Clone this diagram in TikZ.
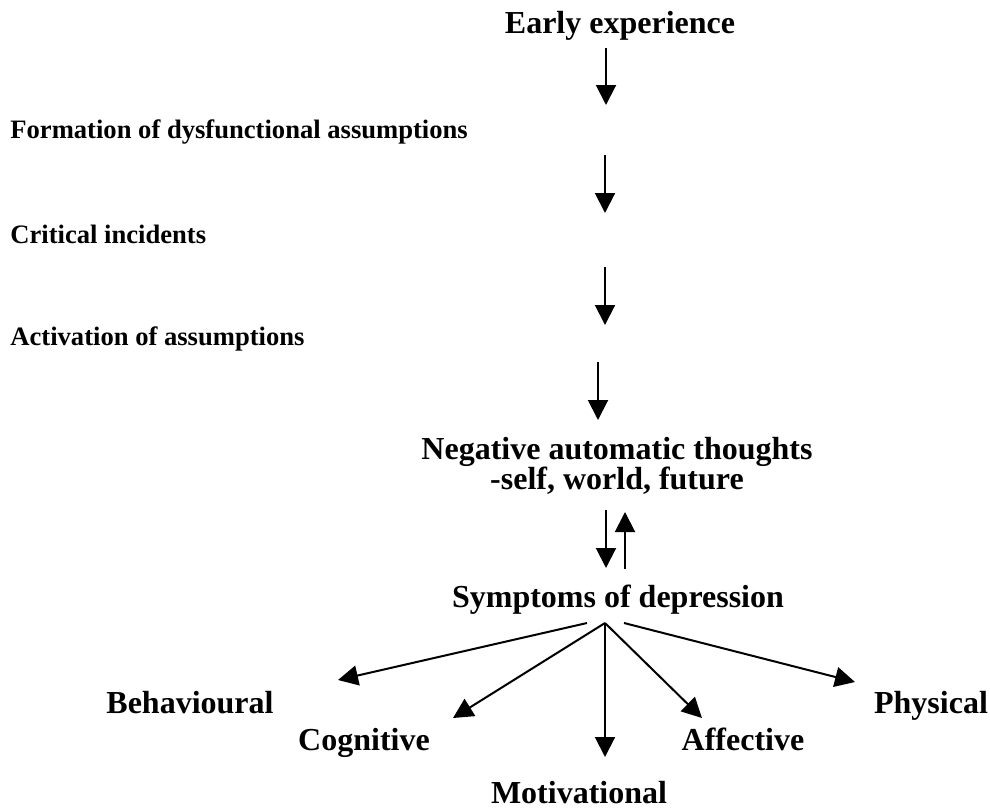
\documentclass[tikz,border=0pt]{standalone}
\usepackage{fontspec}
\setmainfont{Liberation Serif}
\usetikzlibrary{arrows.meta}

\tikzset{
  big/.style={font=\bfseries\fontsize{16}{15}\selectfont, inner sep=0pt},
  small/.style={font=\bfseries\fontsize{13.3}{16}\selectfont, inner sep=0pt, anchor=base west},
  arr/.style={line width=1pt, -{Triangle[length=10pt,width=10pt]}},
}

\begin{document}
\begin{tikzpicture}[x=0.5pt, y=-0.5pt]
  \useasboundingbox (0,0) rectangle (990,809);

  %% chain of causes
  \node[big, anchor=base] (early) at (620,33) {Early experience};
  \node[small] (form) at (10,138) {Formation of dysfunctional assumptions};
  \node[small] (crit) at (10,243) {Critical incidents};
  \node[small] (activ) at (10,345) {Activation of assumptions};
  \node[big, align=center] (nat) at (617,466) {Negative automatic thoughts\\-self, world, future};
  \node[big, anchor=base] (sympt) at (618,607) {Symptoms of depression};

  %% kinds of symptom
  \node[big, anchor=base] (behav) at (190,713) {Behavioural};
  \node[big, anchor=base] (cogn) at (364,750) {Cognitive};
  \node[big, anchor=base] (motiv) at (579,803) {Motivational};
  \node[big, anchor=base] (affect) at (743,750) {Affective};
  \node[big, anchor=base] (phys) at (931,713) {Physical};

  %% downward arrows
  \foreach \i/\x/\ya/\yb in {1/606/48/105, 2/605/155/213, 3/605/267/325, 4/598/362/420, 5/606/510/568}{
    \coordinate (s\i) at (\x,\ya);
    \coordinate (e\i) at (\x,\yb);
    \draw[arr] (s\i) -- (e\i);
  }
  %% feedback arrow
  \coordinate (fb1) at (625,569);
  \coordinate (fb2) at (625,512);
  \draw[arr] (fb1) -- (fb2);

  %% branches
  \coordinate (hub) at (605,623);
  \coordinate (hubl) at (587,623);
  \coordinate (hubr) at (624,623);
  \coordinate (tbehav) at (338,680);
  \coordinate (tcogn) at (453,718);
  \coordinate (tmotiv) at (605,757);
  \coordinate (taffect) at (702,718);
  \coordinate (tphys) at (855,682);
  \draw[arr] (hubl) -- (tbehav);
  \draw[arr] (hub) -- (tcogn);
  \draw[arr] (hub) -- (tmotiv);
  \draw[arr] (hub) -- (taffect);
  \draw[arr] (hubr) -- (tphys);

\end{tikzpicture}
\end{document}
